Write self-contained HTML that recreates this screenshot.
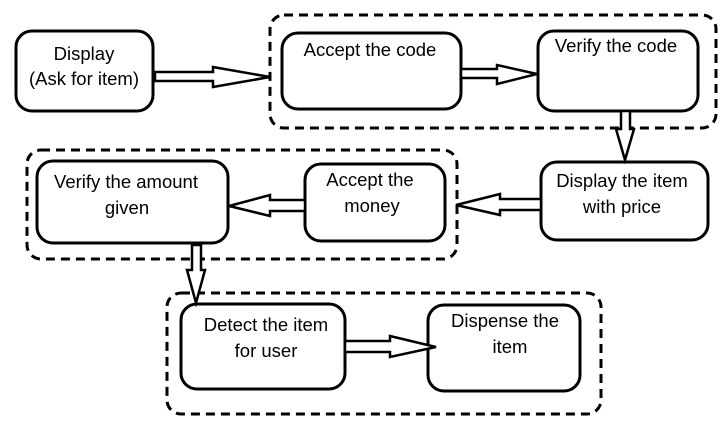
<!DOCTYPE html>
<html><head><meta charset="utf-8"><style>
html,body{margin:0;padding:0;background:#fff;width:723px;height:429px;overflow:hidden}
svg{display:block}
text{font-family:"Liberation Sans",sans-serif;font-size:18.5px;fill:#000}
</style></head><body>
<svg width="723" height="429" viewBox="0 0 723 429" xmlns="http://www.w3.org/2000/svg">
<g fill="none" stroke="#000" stroke-width="3" stroke-dasharray="9,6">
<rect x="270" y="15" width="446" height="113" rx="14"/>
<rect x="27" y="150" width="430" height="109" rx="14"/>
<rect x="167" y="293" width="434" height="121" rx="14"/>
</g>
<g fill="#fff" stroke="#000" stroke-width="3">
<rect x="16" y="31" width="137" height="80" rx="16"/>
<rect x="282" y="33" width="179" height="76" rx="16"/>
<rect x="538" y="31" width="160" height="80" rx="16"/>
<rect x="541" y="162" width="167" height="78" rx="16"/>
<rect x="305" y="164" width="140" height="77" rx="16"/>
<rect x="37" y="161" width="191" height="82" rx="16"/>
<rect x="181" y="304" width="164" height="85" rx="16"/>
<rect x="428" y="305" width="152" height="86" rx="16"/>
</g>
<g fill="#fff" stroke="#000" stroke-width="2.5" stroke-linejoin="miter">
<polygon points="155,72 213,72 213,67 270,77 213,87 213,81 155,81"/>
<polygon points="461,69 497,69 497,65 537,74 497,84 497,78 461,78"/>
<polygon points="621,111 630,111 630,129 634,129 625,160 616,129 621,129"/>
<polygon points="541,199 500,199 500,194 456,205 500,215 500,210 541,210"/>
<polygon points="305,200 270,200 270,195 229,206 270,216 270,211 305,211"/>
<polygon points="192,245 201,245 201,270 205,270 196,303 187,270 192,270"/>
<polygon points="345,341 390,341 390,336 436,347 390,357 390,352 345,352"/>
</g>
<g text-anchor="middle">
<text x="84" y="60">Display</text>
<text x="84" y="85">(Ask for item)</text>
<text x="370" y="56">Accept the code</text>
<text x="616" y="52">Verify the code</text>
<text x="622" y="187">Display the item</text>
<text x="622" y="213">with price</text>
<text x="370" y="186">Accept the</text>
<text x="372" y="212">money</text>
<text x="126" y="188">Verify the amount</text>
<text x="127" y="214">given</text>
<text x="266" y="331">Detect the item</text>
<text x="266" y="357">for user</text>
<text x="505" y="327">Dispense the</text>
<text x="510" y="353">item</text>
</g>
</svg>
</body></html>
